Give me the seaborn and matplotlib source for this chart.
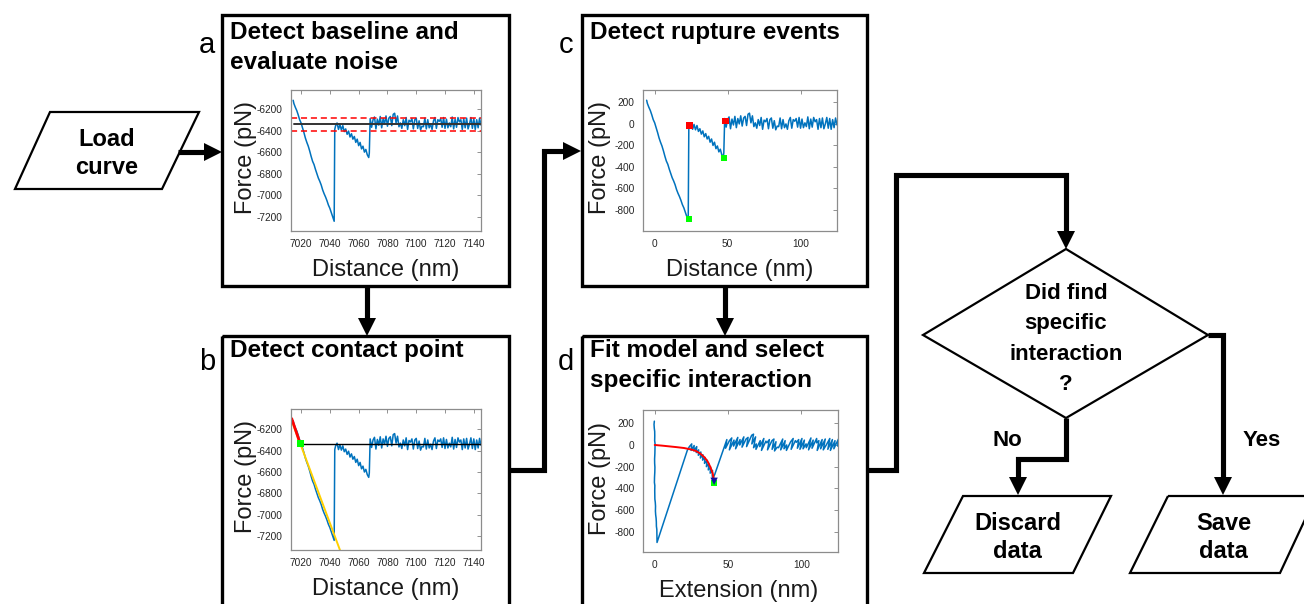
import numpy as np
import pandas as pd
import seaborn as sns
import matplotlib.pyplot as plt
from matplotlib.patches import Polygon, Rectangle

# ---- force curve (distance nm, force pN) ----
approach_nm = [7014.5, 7015, 7016, 7017, 7018, 7019, 7020, 7021, 7022, 7023,
               7024, 7025, 7026, 7027, 7028, 7029, 7030, 7031, 7032, 7033,
               7034, 7035, 7036, 7037, 7038, 7039, 7040, 7041, 7042, 7043]
approach_pn = [-6120, -6150, -6185, -6215, -6255, -6300, -6330, -6375, -6420, -6470,
               -6510, -6545, -6590, -6640, -6685, -6715, -6760, -6800, -6840, -6870,
               -6905, -6950, -6985, -7015, -7050, -7090, -7120, -7160, -7200, -7240]
peel_nm = [7043.4, 7044, 7045, 7046, 7047, 7048, 7049, 7050, 7051, 7052, 7053,
           7054, 7055, 7056, 7057, 7058, 7059, 7060, 7061, 7062, 7063, 7064,
           7065, 7066, 7067, 7067.4]
peel_pn = [-6390, -6355, -6330, -6390, -6345, -6395, -6355, -6410, -6385, -6435, -6405,
           -6460, -6430, -6480, -6455, -6510, -6480, -6540, -6510, -6570, -6545, -6600,
           -6575, -6625, -6650, -6610]
free_nm = list(range(7068, 7146))
free_pn = [-6290, -6370, -6300, -6275, -6385, -6295, -6350, -6270, -6375, -6290,
           -6340, -6265, -6360, -6285, -6270, -6355, -6250, -6240, -6330, -6265,
           -6365, -6330, -6380, -6300, -6355, -6280, -6390, -6305, -6320, -6290,
           -6385, -6300, -6285, -6380, -6310, -6395, -6360, -6365, -6285, -6385,
           -6300, -6375, -6340, -6390, -6310, -6280, -6380, -6300, -6315, -6290,
           -6370, -6280, -6380, -6295, -6375, -6330, -6365, -6275, -6385, -6295,
           -6370, -6280, -6320, -6300, -6390, -6290, -6375, -6285, -6385, -6340,
           -6280, -6380, -6290, -6390, -6300, -6375, -6285, -6350]

baseline_pn = -6340
noise_band_pn = [-6280, -6400]
contact_nm = 7020
cantilever_k = 42  # pN/nm

# panel b fits
approach_fit_nm = [7013.5, 7019.5]
approach_fit_pn = [-6100, -6340]
contact_fit_nm = [7013.5, 7047]
contact_fit_pn = [-6120, -7330]
contact_point = (7019.5, -6335)

# panel c rupture events (distance nm, force pN)
rupture_top_nm = [24, 48.5]
rupture_top_pn = [-15, 25]
rupture_bot_nm = [23.5, 47.5]
rupture_bot_pn = [-885, -315]

# panel d model fit (extension nm, force pN)
fit_ext = [0, 5, 10, 15, 20, 25, 28, 31, 34, 36, 38, 39.5, 40.5]
fit_pn = [0, -6, -13, -20, -28, -42, -55, -78, -115, -150, -205, -260, -330]
select_ext = [40.5]
select_pn = [-335]

distance_a = approach_nm + peel_nm + free_nm
force_a = approach_pn + peel_pn + free_pn
distance_c = [d - contact_nm for d in distance_a]
force_c = [f - baseline_pn for f in force_a]
extension_d = [d + f / cantilever_k for d, f in zip(distance_c, force_c)]

curve_a = pd.DataFrame({"x": distance_a, "y": force_a})
curve_c = pd.DataFrame({"x": distance_c, "y": force_c})
curve_d = pd.DataFrame({"x": extension_d, "y": force_c})

sns.set_theme(style="white")
plt.rcParams['font.family'] = ['Liberation Sans', 'DejaVu Sans']
plt.rcParams['axes.unicode_minus'] = False

W, H = 1304, 604
fig = plt.figure(figsize=(W / 100, H / 100), dpi=100)
fig.patch.set_facecolor("white")
bg = fig.add_axes([0, 0, 1, 1])
bg.set_xlim(0, W)
bg.set_ylim(H, 0)
bg.axis("off")

BLUE = "#0072BD"
ARW = 3.7


def head(tip, direction):
    x, y = tip
    if direction == "right":
        pts = [(x, y), (x - 18, y - 9), (x - 18, y + 9)]
    else:
        pts = [(x, y), (x - 9, y - 18), (x + 9, y - 18)]
    bg.add_patch(Polygon(pts, closed=True, color="black", lw=0))


def path(xs, ys):
    bg.plot(xs, ys, color="black", lw=ARW, solid_joinstyle="miter", solid_capstyle="butt")


def para(pts, text):
    bg.add_patch(Polygon(pts, closed=True, fill=False, ec="black", lw=1.6))
    cx = sum(p[0] for p in pts) / 4
    cy = sum(p[1] for p in pts) / 4
    bg.text(cx, cy + 3, text, ha="center", va="center", fontsize=17, fontweight="bold",
            linespacing=1.3, color="black")


# process boxes
for (x0, y0, x1, y1) in [(222, 15, 509, 286), (222, 336, 509, 640),
                         (582, 15, 867, 286), (582, 336, 867, 640)]:
    bg.add_patch(Rectangle((x0, y0), x1 - x0, y1 - y0, fill=False, ec="black", lw=2.4))

for lab, x, y in [("a", 207, 45), ("b", 207, 362), ("c", 566, 45), ("d", 566, 362)]:
    bg.text(x, y, lab, ha="center", va="center", fontsize=21, color="black")

titles = [("Detect baseline and\nevaluate noise", 230, 21),
          ("Detect contact point", 230, 339),
          ("Detect rupture events", 590, 21),
          ("Fit model and select\nspecific interaction", 590, 339)]
for t, x, y in titles:
    bg.text(x, y, t, ha="left", va="top", fontsize=17.5, fontweight="bold",
            linespacing=1.4, color="black")

# input / output shapes
para([(50, 112), (199, 112), (162, 189), (15, 189)], "Load\ncurve")
para([(963, 496), (1111, 496), (1073, 573), (924, 573)], "Discard\ndata")
para([(1168, 496), (1316, 496), (1280, 573), (1130, 573)], "Save\ndata")

# decision
bg.add_patch(Polygon([(1066, 249), (1208, 335), (1066, 418), (923, 335)], closed=True,
                     fill=False, ec="black", lw=1.6))
bg.text(1066, 339, "Did find\nspecific\ninteraction\n?", ha="center", va="center",
        fontsize=16, fontweight="bold", linespacing=1.58, color="black")
bg.text(1007, 440, "No", ha="center", va="center", fontsize=16, fontweight="bold", color="black")
bg.text(1262, 441, "Yes", ha="center", va="center", fontsize=16, fontweight="bold", color="black")

# connectors
path([178, 205], [152, 152]); head((222, 152), "right")
path([367, 367], [286, 319]); head((367, 336), "down")
path([509, 544, 544, 564], [470, 470, 151, 151]); head((581, 151), "right")
path([725, 725], [286, 319]); head((725, 336), "down")
path([867, 896, 896, 1066, 1066], [470, 470, 175, 175, 232]); head((1066, 249), "down")
path([1066, 1066, 1018, 1018], [418, 459, 459, 478]); head((1018, 495), "down")
path([1208, 1223, 1223], [335, 335, 478]); head((1223, 495), "down")


def inset(l, t, r, b):
    return fig.add_axes([l / W, 1 - b / H, (r - l) / W, (b - t) / H])


def style(ax, xlim, ylim, xticks, yticks, xlabel, ylab_x, xlab_x, xlab_y):
    ax.set_xlim(*xlim)
    ax.set_ylim(*ylim)
    ax.set_xticks(xticks)
    ax.set_yticks(yticks)
    ax.tick_params(direction="in", length=3, width=0.6, color="#808080", labelsize=7.3,
                   labelcolor="#262626", top=True, right=True, pad=6)
    for s in ax.spines.values():
        s.set_color("#8c8c8c")
        s.set_linewidth(0.9)
    ax.set_facecolor("white")
    ax.set_xlabel(xlabel, fontsize=17, color="#1a1a1a")
    ax.set_ylabel("Force (pN)", fontsize=17, color="#1a1a1a")
    ax.yaxis.set_label_coords(ylab_x, 0.52)
    ax.xaxis.set_label_coords(xlab_x, xlab_y)


xt_ab = [7020, 7040, 7060, 7080, 7100, 7120, 7140]
yt_ab = [-6200, -6400, -6600, -6800, -7000, -7200]
yt_cd = [200, 0, -200, -400, -600, -800]

# panel a
ax = inset(291, 90, 481, 231)
sns.lineplot(data=curve_a, x="x", y="y", sort=False, estimator=None, color=BLUE, lw=1.1, ax=ax)
ax.plot([7015, 7145], [baseline_pn, baseline_pn], color="#333333", lw=1.4)
for v in noise_band_pn:
    ax.plot([7013, 7145], [v, v], color="red", lw=1.1, ls=(0, (4, 2.5)))
style(ax, (7013, 7145), (-7330, -6025), xt_ab, yt_ab, "Distance (nm)", -0.18, 0.5, -0.2)

# panel b
ax = inset(291, 409, 481, 550)
sns.lineplot(data=curve_a, x="x", y="y", sort=False, estimator=None, color=BLUE, lw=1.1, ax=ax)
ax.plot([contact_point[0], 7145], [baseline_pn, baseline_pn], color="black", lw=1)
sns.lineplot(x=contact_fit_nm, y=contact_fit_pn, color="#FFD000", lw=1.4, ax=ax)
sns.lineplot(x=approach_fit_nm, y=approach_fit_pn, color="red", lw=2, ax=ax)
sns.scatterplot(x=[contact_point[0]], y=[contact_point[1]], color="#00FF00", s=22,
                marker="s", edgecolor="none", ax=ax, zorder=5)
style(ax, (7013, 7145), (-7330, -6010), xt_ab, yt_ab, "Distance (nm)", -0.18, 0.5, -0.2)

# panel c
ax = inset(643, 90, 837, 231)
sns.lineplot(data=curve_c, x="x", y="y", sort=False, estimator=None, color=BLUE, lw=1.1, ax=ax)
sns.scatterplot(x=rupture_top_nm, y=rupture_top_pn, color="red", s=22, marker="s",
                edgecolor="none", ax=ax, zorder=5)
sns.scatterplot(x=rupture_bot_nm, y=rupture_bot_pn, color="#00FF00", s=22, marker="s",
                edgecolor="none", ax=ax, zorder=5)
style(ax, (-8, 125), (-995, 315), [0, 50, 100], yt_cd, "Distance (nm)", -0.165, 0.5, -0.2)

# panel d
ax = inset(643, 410, 838, 552)
sns.lineplot(data=curve_d, x="x", y="y", sort=False, estimator=None, color=BLUE, lw=1.1, ax=ax)
sns.lineplot(x=fit_ext, y=fit_pn, color="red", lw=1.4, ax=ax)
sns.scatterplot(x=select_ext, y=[p - 18 for p in select_pn], color="#00FF00", s=22,
                marker="s", edgecolor="none", ax=ax, zorder=5)
sns.scatterplot(x=select_ext, y=select_pn, color="#1010A0", s=28, marker="v",
                edgecolor="none", ax=ax, zorder=6)
style(ax, (-8, 125), (-988, 323), [0, 50, 100], yt_cd, "Extension (nm)", -0.165, 0.49, -0.2)

fig.savefig("out.png", dpi=100, facecolor="white")
